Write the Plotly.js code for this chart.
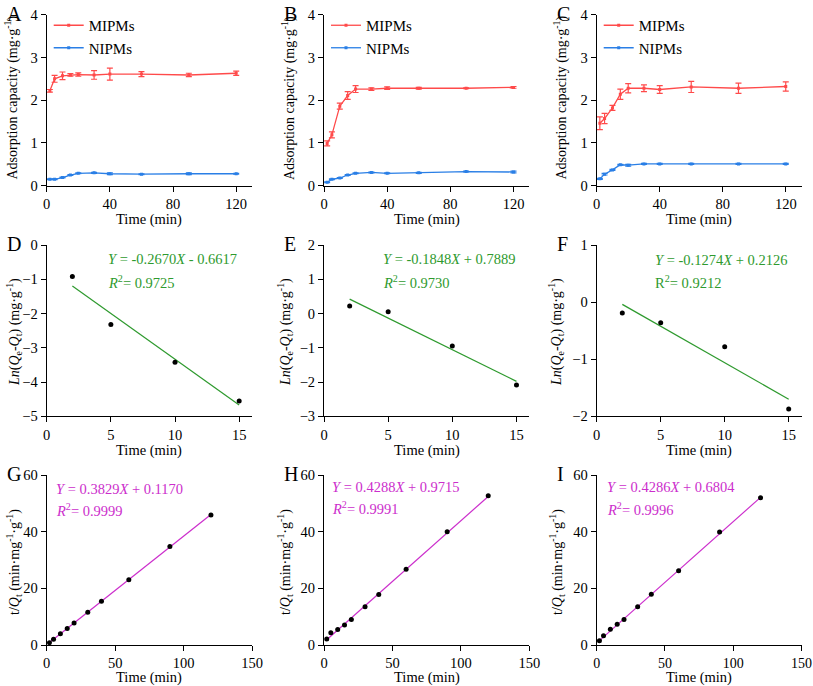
<!DOCTYPE html>
<html><head><meta charset="utf-8">
<script src="https://cdn.plot.ly/plotly-3.0.1.min.js"></script>
<style>html,body{margin:0;padding:0;background:#fff;overflow:hidden}</style>
</head><body>
<div id="chart" style="width:813px;height:686px"></div>
<script>
// ---- data ----
const times = [2, 5, 10, 15, 20, 30, 40, 60, 90, 120];
const timesFit = [2, 5, 10, 15];

// Panel A
const A_MIP = [2.22, 2.50, 2.57, 2.59, 2.60, 2.59, 2.61, 2.61, 2.59, 2.63];
const A_MIP_err = [0.03, 0.08, 0.09, 0.03, 0.04, 0.10, 0.14, 0.06, 0.04, 0.05];
const A_NIP = [0.15, 0.15, 0.19, 0.25, 0.29, 0.30, 0.28, 0.27, 0.28, 0.28];
const A_NIP_err = [0.01, 0.01, 0.01, 0.01, 0.01, 0.01, 0.02, 0.01, 0.02, 0.01];
// Panel B
const B_MIP = [0.99, 1.19, 1.86, 2.11, 2.26, 2.26, 2.28, 2.28, 2.28, 2.30];
const B_MIP_err = [0.06, 0.07, 0.07, 0.09, 0.08, 0.03, 0.03, 0.02, 0.01, 0.02];
const B_NIP = [0.08, 0.15, 0.18, 0.25, 0.29, 0.31, 0.29, 0.30, 0.33, 0.32];
const B_NIP_err = [0.01, 0.01, 0.01, 0.01, 0.01, 0.01, 0.01, 0.01, 0.01, 0.02];
// Panel C
const C_MIP = [1.46, 1.57, 1.82, 2.14, 2.28, 2.28, 2.25, 2.31, 2.28, 2.32];
const C_MIP_err = [0.15, 0.12, 0.06, 0.12, 0.11, 0.08, 0.09, 0.13, 0.12, 0.11];
const C_NIP = [0.16, 0.27, 0.37, 0.49, 0.48, 0.51, 0.51, 0.51, 0.51, 0.51];
const C_NIP_err = [0.01, 0.02, 0.01, 0.01, 0.02, 0.01, 0.01, 0.01, 0.01, 0.01];

// Pseudo-first-order (D, E, F)
const D_pts = [-0.92, -2.32, -3.42, -4.55];
const E_pts = [0.22, 0.05, -0.95, -2.09];
const F_pts = [-0.19, -0.36, -0.78, -1.87];
const fitX1 = [2, 15];
const D_fit = [-1.20, -4.67];
const E_fit = [0.42, -1.98];
const F_fit = [-0.04, -1.70];

// Pseudo-second-order (G, H, I)
const G_pts = [0.83, 2.0, 4.0, 5.8, 7.8, 11.6, 15.4, 23.0, 34.8, 45.9];
const H_pts = [2.1, 4.3, 5.5, 7.1, 9.0, 13.5, 17.8, 26.7, 40.0, 52.7];
const I_pts = [1.5, 3.3, 5.6, 7.3, 9.0, 13.5, 17.9, 26.2, 39.9, 52.0];
const fitX2 = [2, 120];
const G_fit = [0.88, 46.06];
const H_fit = [1.83, 52.43];
const I_fit = [1.54, 52.11];

const panelLetters = ['A','B','C','D','E','F','G','H','I'];
const eq1 = ['<i>Y</i> = -0.2670<i>X</i> - 0.6617', '<i>Y</i> = -0.1848<i>X</i> + 0.7889', '<i>Y</i> = -0.1274<i>X</i> + 0.2126'];
const r1 = ['<i>R</i><sup>2</sup>= 0.9725', '<i>R</i><sup>2</sup>= 0.9730', 'R<sup>2</sup>= 0.9212'];
const eq2 = ['<i>Y</i> = 0.3829<i>X</i> + 0.1170', '<i>Y</i> = 0.4288<i>X</i> + 0.9715', '<i>Y</i> = 0.4286<i>X</i> + 0.6804'];
const r2 = ['<i>R</i><sup>2</sup>= 0.9999', '<i>R</i><sup>2</sup>= 0.9991', '<i>R</i><sup>2</sup>= 0.9996'];
const xTitle = 'Time (min)';
const adsY = 'Adsorption capacity (mg·g<sup>-1</sup>)';
const lnY = '<i>Ln</i>(<i>Q</i><sub>e</sub>-<i>Q</i><sub>t</sub>) (mg·g<sup>-1</sup>)';
const tqY = 't/<i>Q</i><sub>t</sub> (min·mg<sup>-1</sup>·g<sup>-1</sup>)';

// ---- styling ----
const RED = '#ff4a4a', BLUE = '#2a7fe6', GREEN = '#2e9a2e', MAG = '#cc2ecc';
const FONT = 'Liberation Serif, Times New Roman, serif';
const W = 813, H = 686;
const colPx = [[46.7, 252], [324, 529.3], [596.7, 801.5]];
const rowPx = [[14.7, 185.7], [245, 416.3], [475, 645]];
const yTitleX = [[12.5, 289, 561.5], [14, 285, 556], [14, 285, 557]];
const yTitleY = [98, 332, 562];
const xTitleY = [219, 450, 677];
const dx = c => [colPx[c][0] / W, colPx[c][1] / W];
const dy = r => [1 - rowPx[r][1] / H, 1 - rowPx[r][0] / H];

const traces = [];
const layout = {
  width: W, height: H, margin: {l: 0, r: 0, t: 0, b: 0},
  paper_bgcolor: '#fff', plot_bgcolor: 'rgba(0,0,0,0)',
  font: {family: FONT, size: 14, color: '#000'},
  showlegend: true, annotations: []
};

const xRanges = [[0,130],[0,16],[0,150]];
const xTicks = [[0,40,80,120],[0,5,10,15],[0,50,100,150]];
const yRanges = [[[0,4],[0,4],[0,4]], [[-5,0],[-3,2],[-2,1]], [[0,60],[0,60],[0,60]]];
const yDtick = [[1,1,1],[1,1,1],[20,20,20]];
const yTitles = [adsY, lnY, tqY];

for (let r = 0; r < 3; r++) {
  for (let c = 0; c < 3; c++) {
    const i = r * 3 + c + 1;
    const xa = 'xaxis' + (i === 1 ? '' : i), ya = 'yaxis' + (i === 1 ? '' : i);
    const common = {
      showline: true, linecolor: '#000', linewidth: 1, mirror: false,
      ticks: 'outside', ticklen: 5, tickwidth: 1, tickcolor: '#000',
      showgrid: false, zeroline: false, automargin: false,
      ticklabelposition: 'outside', ticklabeloverflow: 'allow',
      tickfont: {family: FONT, size: 14.5, color: '#000'}
    };
    layout[xa] = Object.assign({}, common, {
      domain: dx(c), anchor: 'y' + (i === 1 ? '' : i), range: xRanges[r],
      tickvals: xTicks[r], cliponaxis: false
    });
    if (r === 2 && c === 2) layout[xa].tickfont = {family: FONT, size: 14, color: '#000'};
    layout[ya] = Object.assign({}, common, {
      domain: dy(r), anchor: 'x' + (i === 1 ? '' : i), range: yRanges[r][c],
      dtick: yDtick[r][c], tick0: 0
    });
    // axis titles
    layout.annotations.push({
      text: xTitle, xref: 'paper', yref: 'paper',
      x: (colPx[c][0] + colPx[c][1]) / 2 / W, y: 1 - xTitleY[r] / H,
      xanchor: 'center', yanchor: 'middle', showarrow: false,
      font: {family: FONT, size: 14.5, color: '#000'}
    });
    layout.annotations.push({
      text: yTitles[r], xref: 'paper', yref: 'paper', textangle: -90,
      x: yTitleX[r][c] / W, y: 1 - yTitleY[r] / H,
      xanchor: 'center', yanchor: 'middle', showarrow: false,
      font: {family: FONT, size: 14, color: '#000'}
    });
    layout.annotations.push({
      text: panelLetters[i-1], xref: 'paper', yref: 'paper',
      x: (colPx[c][0] - 42) / W, y: 1 - (rowPx[r][0] - 1) / H,
      xanchor: 'left', yanchor: 'middle', showarrow: false,
      font: {family: FONT, size: 20, color: '#000'}
    });
  }
}

// Row 1 traces
const rowData = [
  [A_MIP, A_MIP_err, A_NIP, A_NIP_err],
  [B_MIP, B_MIP_err, B_NIP, B_NIP_err],
  [C_MIP, C_MIP_err, C_NIP, C_NIP_err]
];
const legNames = ['legend', 'legend2', 'legend3'];
for (let c = 0; c < 3; c++) {
  const i = c + 1, sx = i === 1 ? '' : i;
  const [m, me, n, ne] = rowData[c];
  traces.push({
    x: times, y: m, type: 'scatter', mode: 'lines+markers', name: 'MIPMs',
    xaxis: 'x' + sx, yaxis: 'y' + sx, legend: legNames[c],
    line: {color: RED, width: 1.3}, marker: {color: RED, size: 3, symbol: 'square'},
    error_y: {type: 'data', array: me, visible: true, color: RED, thickness: 1.2, width: 3}
  });
  traces.push({
    x: times, y: n, type: 'scatter', mode: 'lines+markers', name: 'NIPMs',
    xaxis: 'x' + sx, yaxis: 'y' + sx, legend: legNames[c],
    line: {color: BLUE, width: 1.3}, marker: {color: BLUE, size: 3, symbol: 'square'},
    error_y: {type: 'data', array: ne, visible: true, color: BLUE, thickness: 1.2, width: 3}
  });
  layout[legNames[c]] = {
    x: (colPx[c][0] + 2) / W, y: 1 - 9 / H, xanchor: 'left', yanchor: 'top',
    bgcolor: 'rgba(0,0,0,0)', font: {family: FONT, size: 15, color: '#000'},
    itemwidth: 30, tracegroupgap: 0
  };
}

// Row 2 traces
const row2 = [[D_pts, D_fit], [E_pts, E_fit], [F_pts, F_fit]];
for (let c = 0; c < 3; c++) {
  const i = 3 + c + 1, sx = String(i);
  traces.push({
    x: fitX1, y: row2[c][1], type: 'scatter', mode: 'lines', showlegend: false,
    xaxis: 'x' + sx, yaxis: 'y' + sx, line: {color: GREEN, width: 1.2}
  });
  traces.push({
    x: timesFit, y: row2[c][0], type: 'scatter', mode: 'markers', showlegend: false,
    xaxis: 'x' + sx, yaxis: 'y' + sx, marker: {color: '#000', size: 5}
  });
}
// Row 3 traces
const row3 = [[G_pts, G_fit], [H_pts, H_fit], [I_pts, I_fit]];
for (let c = 0; c < 3; c++) {
  const i = 6 + c + 1, sx = String(i);
  traces.push({
    x: fitX2, y: row3[c][1], type: 'scatter', mode: 'lines', showlegend: false,
    xaxis: 'x' + sx, yaxis: 'y' + sx, line: {color: MAG, width: 1.2}
  });
  traces.push({
    x: times, y: row3[c][0], type: 'scatter', mode: 'markers', showlegend: false,
    xaxis: 'x' + sx, yaxis: 'y' + sx, marker: {color: '#000', size: 5}
  });
}

// Equation annotations
const eq1Pos = [[106, 259, 281.7], [381, 259, 281.7], [653, 260, 282]];
const eq2Pos = [[54.3, 489.3, 510], [330, 486.7, 508.3], [605, 487.3, 509]];
for (let c = 0; c < 3; c++) {
  const p = eq1Pos[c], q = eq2Pos[c];
  [[eq1[c], p[0], p[1], GREEN], [r1[c], p[0], p[2], GREEN],
   [eq2[c], q[0], q[1], MAG], [r2[c], q[0], q[2], MAG]].forEach(a => {
    layout.annotations.push({
      text: a[0], xref: 'paper', yref: 'paper', x: a[1] / W, y: 1 - a[2] / H,
      xanchor: 'left', yanchor: 'middle', showarrow: false,
      font: {family: FONT, size: 14.5, color: a[3]}
    });
  });
}

Plotly.newPlot('chart', traces, layout, {displayModeBar: false, staticPlot: true});
</script>
</body></html>
